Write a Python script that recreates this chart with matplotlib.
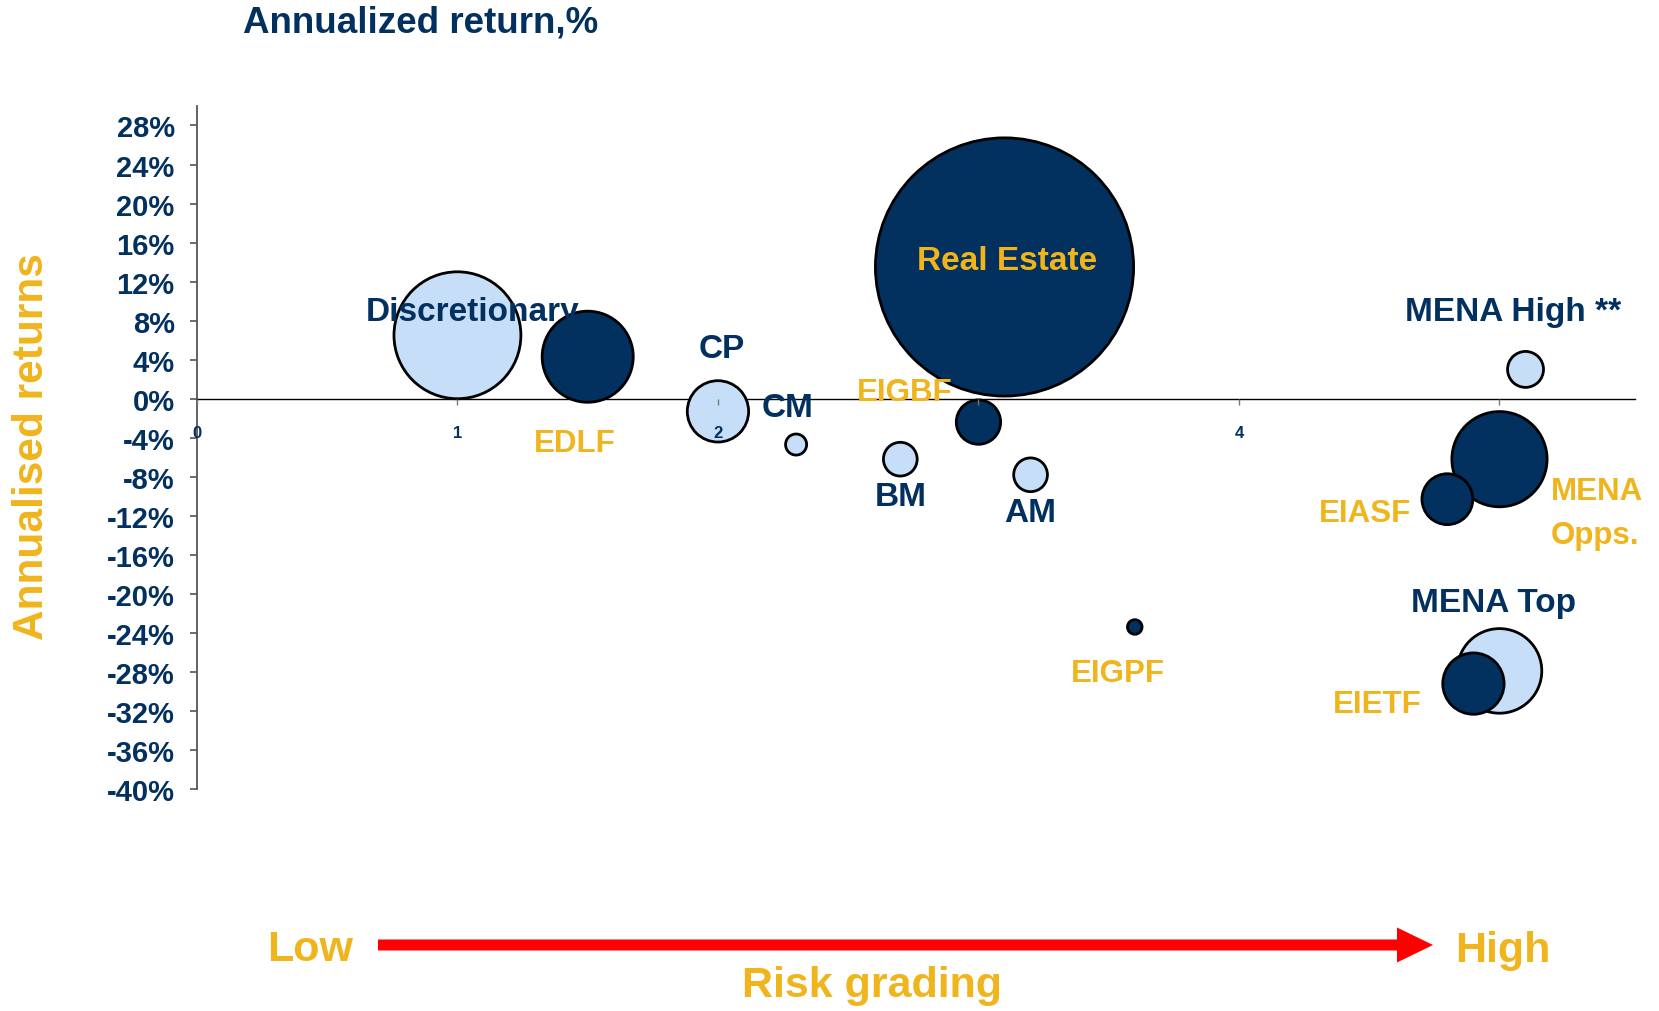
import matplotlib
matplotlib.use("Agg")
import matplotlib.pyplot as plt
from matplotlib.patches import FancyArrow
from matplotlib.ticker import FuncFormatter
import numpy as np

plt.rcParams['font.family'] = ['Liberation Sans', 'DejaVu Sans']
plt.rcParams['font.weight'] = 'bold'

# --- data ---
names = ['Discretionary', 'EDLF', 'CP', 'CM', 'BM', 'EIGBF', 'AM',
         'Real Estate', 'EIGPF', 'MENA High **', 'MENA\nOpps.', 'EIASF',
         'MENA Top', 'EIETF']
risk = [1.0, 1.5, 2.0, 2.3, 2.7, 3.0, 3.2, 3.1, 3.6, 5.1, 5.0, 4.8, 5.0, 4.9]
returns = [6.5, 4.3, -1.3, -4.7, -6.2, -2.4, -7.8, 13.5, -23.4, 3.0, -6.2,
           -10.3, -27.9, -29.2]
bubble_size = [835, 430, 195, 23, 59, 102, 59, 3456, 11, 67, 470, 134, 371, 195]
group = ['light', 'dark', 'light', 'light', 'light', 'dark', 'light',
         'dark', 'dark', 'light', 'dark', 'dark', 'light', 'dark']

y_ticks = np.arange(-40, 29, 4)
x_ticks = [0, 1, 2, 3, 4, 5]
x_tick_labels = ['0', '1', '2', '', '4', '']

# label offsets (points) from each bubble centre
label_offset = [(11, 17), (-9, -62), (3, 45), (-6, 27), (0, -27), (-53, 22),
                (0, -27), (2, 5), (-12, -33), (-9, 42), (70, -39), (-59, -10),
                (-4, 49), (-69, -15)]

navy = '#02305F'
light = '#C6DEF7'
gold = '#F0B41C'

fill = {'light': light, 'dark': navy}
text_col = {'light': navy, 'dark': gold}
text_size = {'light': 24, 'dark': 22.5}

fig = plt.figure(figsize=(16.59, 10.12), dpi=100)
ax = fig.add_axes([0.1187, 0.2194, 0.8668, 0.6749])

# big bubbles first so small ones stay on top
order = np.argsort(bubble_size)[::-1]
ax.scatter(np.array(risk)[order], np.array(returns)[order] / 100,
           s=np.array(bubble_size)[order] * 10,
           c=[fill[group[i]] for i in order],
           edgecolors='black', linewidths=2, zorder=3)

for i, name in enumerate(names):
    size = 24 if name == 'Real Estate' else text_size[group[i]]
    ax.annotate(name, (risk[i], returns[i] / 100), xytext=label_offset[i],
                textcoords='offset points', ha='center', va='center',
                fontsize=size, color=text_col[group[i]], linespacing=1.6,
                multialignment='left', zorder=6)

ax.set_xlim(0, 5.52)
ax.set_ylim(-0.40, 0.30)

ax.spines['top'].set_visible(False)
ax.spines['right'].set_visible(False)
ax.spines['bottom'].set_position(('data', 0))
ax.spines['bottom'].set_color('black')
ax.spines['bottom'].set_linewidth(1.0)
ax.spines['left'].set_color('#555555')
ax.spines['left'].set_linewidth(1.3)

ax.set_yticks(y_ticks / 100)
ax.yaxis.set_major_formatter(FuncFormatter(lambda v, p: f'{v * 100:.0f}%'))
ax.set_xticks(x_ticks)
ax.set_xticklabels(x_tick_labels)
ax.xaxis.set_zorder(4)

ax.tick_params(axis='y', direction='out', length=5, width=1.2, color='#555555',
               pad=11, labelsize=21, labelcolor=navy)
ax.tick_params(axis='x', direction='out', length=4, width=1.0, color='#777777',
               pad=15, labelsize=12, labelcolor=navy)

# --- texts around the plot ---
fig.text(0.1465, 0.9674, 'Annualized return,%', fontsize=26.5, color=navy,
         ha='left', va='baseline')
fig.text(0.0193, 0.559, 'Annualised returns', fontsize=30.5, color=gold,
         rotation=90, ha='center', va='center')
fig.text(0.161, 0.0504, 'Low', fontsize=31, color=gold, ha='left', va='baseline')
fig.text(0.877, 0.0494, 'High', fontsize=31, color=gold, ha='left', va='baseline')
fig.text(0.5256, 0.0148, 'Risk grading', fontsize=31, color=gold,
         ha='center', va='baseline')

arrow = FancyArrow(3.78, 0.66, 14.33 - 3.78, 0, width=0.11, head_width=0.35,
                   head_length=0.36, length_includes_head=True,
                   transform=fig.dpi_scale_trans, color='#FF0000', lw=0)
fig.add_artist(arrow)

fig.savefig('out.png', dpi=100)
